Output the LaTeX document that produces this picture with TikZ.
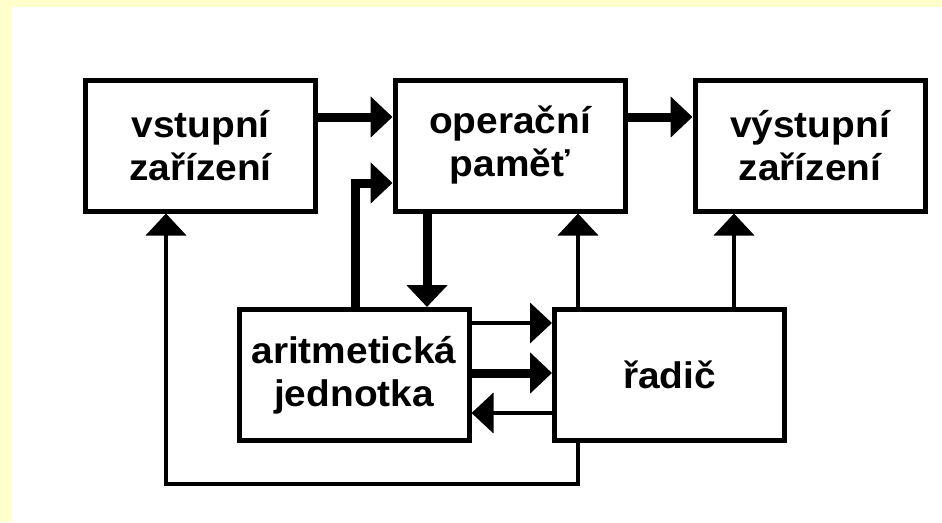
\documentclass[tikz,border=0pt]{standalone}
\usepackage{fontspec}
\newfontfamily\boxfont{Liberation Sans}[FakeStretch=1.05]
\usetikzlibrary{arrows.meta}
\definecolor{bgyellow}{HTML}{FFFFCC}
\begin{document}
\begin{tikzpicture}[x=1pt,y=-1pt,
  box/.style={draw, line width=5pt, minimum width=230pt, minimum height=131pt,
    inner sep=0pt, align=center,
    font=\boxfont\bfseries\fontsize{37}{43}\selectfont},
  thickarrow/.style={line width=9pt, -{Triangle[width=40pt,length=22pt]}},
  thinarrow/.style={line width=4pt, -{Triangle[width=40pt,length=22pt]}}]
\useasboundingbox (0,0) rectangle (942,522);
\fill[bgyellow] (0,0) rectangle (942,522);
\fill[white] (12,7) rectangle (942,522);
\node[box] (vst) at (200.5,145.5) {vstupní\\zařízení};
\node[box] (op) at (510,145.5) {operační\\paměť};
\node[box] (vys) at (810,145.5) {výstupní\\zařízení};
\node[box] (ar) at (354,375) {aritmetická\\jednotka};
\node[box] (rad) at (669.5,375) {řadič};
\draw[thickarrow] (vst.east |- 0,117) -- (op.west |- 0,117);
\draw[thickarrow] (op.east |- 0,117) -- (vys.west |- 0,117);
\draw[thickarrow] (ar.north -| 355,0) |- (op.west |- 0,183);
\draw[thickarrow] (op.south -| 427,0) -- (ar.north -| 427,0);
\draw[thinarrow] (rad.north -| 578,0) -- (op.south -| 578,0);
\draw[thinarrow] (rad.north -| 734,0) -- (vys.south -| 734,0);
\draw[thinarrow] (ar.east |- 0,323) -- (rad.west |- 0,323);
\draw[thickarrow] (ar.east |- 0,373) -- (rad.west |- 0,373);
\draw[thinarrow] (rad.west |- 0,413) -- (ar.east |- 0,413);
\coordinate (bend) at (578,484);
\draw[thinarrow] (rad.south -| 578,0) -- (bend) -| (vst.south -| 166,0);
\end{tikzpicture}
\end{document}
